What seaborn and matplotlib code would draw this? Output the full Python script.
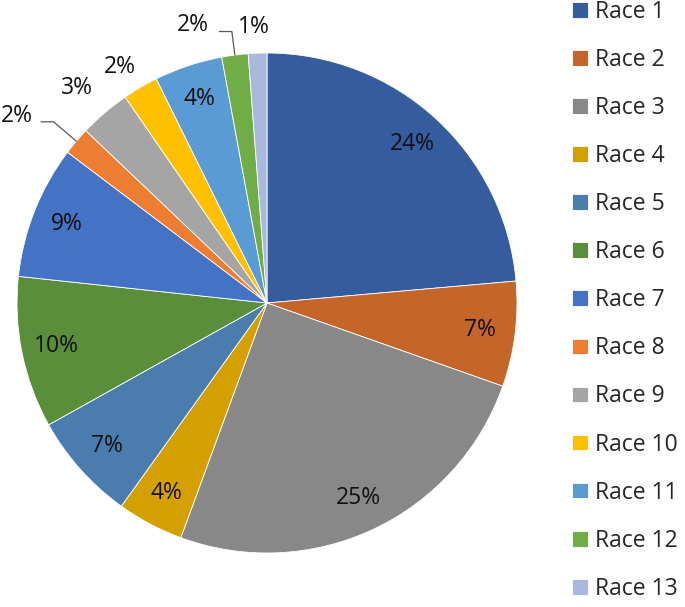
import numpy as np
import matplotlib
matplotlib.use("Agg")
import matplotlib.pyplot as plt
import seaborn as sns

races = ["Race 1", "Race 2", "Race 3", "Race 4", "Race 5", "Race 6", "Race 7",
         "Race 8", "Race 9", "Race 10", "Race 11", "Race 12", "Race 13"]
shares = [23.6, 6.8, 25.2, 4.3, 7.0, 9.8, 8.6, 1.8, 3.3, 2.3, 4.4, 1.7, 1.2]
colors = ["#355C9F", "#C4652A", "#888888", "#D4A000", "#4A7DAE", "#5A8E3A",
          "#4472C4", "#ED7D31", "#A5A5A5", "#FFC000", "#5B9BD5", "#70AD47",
          "#A9B8DD"]

sns.set_style("white")
plt.rcParams["font.family"] = ["Open Sans", "DejaVu Sans"]

FS = 16.5
W, H = 685, 607
fig = plt.figure(figsize=(W / 100, H / 100), dpi=100)
cx, cy, R = 267, 303, 250
ax = fig.add_axes([(cx - R) / W, (H - cy - R) / H, 2 * R / W, 2 * R / H])

wedges, _ = ax.pie(shares, colors=colors, startangle=90, counterclock=False,
                   radius=1, wedgeprops=dict(edgecolor="white", linewidth=0.6))
ax.set_xlim(-1, 1)
ax.set_ylim(-1, 1)
ax.set_aspect("equal")
ax.axis("off")

# label placement style: (distance, angle offset deg, leader elbow)
outside = {7: (1.25, 3.5, 1.12), 8: (1.15, 1.0, None), 9: (1.11, 1.5, None),
           11: (1.15, 7.6, 1.095), 12: (1.106, 0.6, None)}
for i, w in enumerate(wedges):
    mid = (w.theta1 + w.theta2) / 2
    txt = f"{shares[i]:.0f}%"
    if i in outside:
        d, off, elbow = outside[i]
        a = np.deg2rad(mid + off)
        ax.text(d * np.cos(a), d * np.sin(a), txt, ha="center", va="center",
                fontsize=FS, color="#111111", clip_on=False)
        if elbow:
            m = np.deg2rad(mid)
            x0, y0 = np.cos(m), np.sin(m)
            x1, y1 = elbow * np.cos(m), elbow * np.sin(m)
            ax.plot([x0, x1, x1 - 0.05], [y0, y1, y1], color="#595959",
                    lw=0.9, clip_on=False)
    else:
        a = np.deg2rad(mid)
        ax.text(0.86 * np.cos(a), 0.86 * np.sin(a), txt, ha="center",
                va="center", fontsize=FS, color="#111111")

fig.legend(wedges, races, loc="upper left", bbox_to_anchor=(572 / W, 1.0),
           frameon=False, fontsize=FS, handlelength=0.68, handleheight=0.68,
           handletextpad=0.32, labelspacing=1.05, borderpad=0,
           borderaxespad=0)

fig.savefig("out.png", dpi=100)
